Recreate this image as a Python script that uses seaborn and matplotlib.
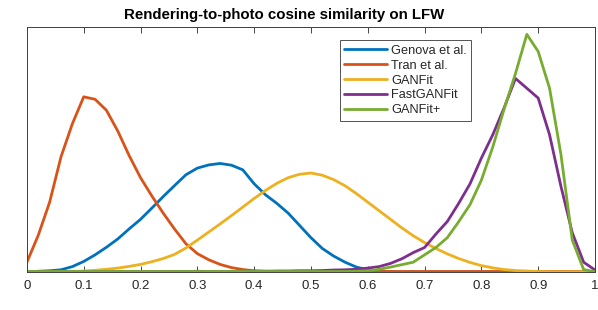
import matplotlib
matplotlib.use("Agg")
import matplotlib.pyplot as plt
import numpy as np
import pandas as pd
import seaborn as sns

# similarity bins (0 to 1, step 0.02)
sim = np.round(np.arange(0, 1.0001, 0.02), 2)

genova = [0.0, 0.003, 0.005, 0.009, 0.022, 0.043, 0.07, 0.101, 0.135, 0.176,
          0.215, 0.261, 0.308, 0.353, 0.397, 0.424, 0.437, 0.443, 0.436, 0.417,
          0.36, 0.315, 0.28, 0.24, 0.19, 0.14, 0.096, 0.065, 0.04, 0.02,
          0.009, 0.003, 0.001, 0.0, 0.0, 0.0, 0.0, 0.0, 0.0, 0.0,
          0.0, 0.0, 0.0, 0.0, 0.0, 0.0, 0.0, 0.0, 0.0, 0.0, 0.0]
tran = [0.04, 0.15, 0.285, 0.47, 0.605, 0.715, 0.705, 0.66, 0.575, 0.475,
        0.385, 0.31, 0.24, 0.175, 0.115, 0.075, 0.05, 0.031, 0.018, 0.01,
        0.005, 0.003, 0.002, 0.002, 0.002, 0.002, 0.002, 0.002, 0.002, 0.002,
        0.002, 0.002, 0.002, 0.002, 0.002, 0.002, 0.002, 0.002, 0.002, 0.002,
        0.002, 0.002, 0.002, 0.002, 0.002, 0.002, 0.002, 0.002, 0.002, 0.002, 0.002]
ganfit = [0.0, 0.0, 0.0, 0.001, 0.002, 0.004, 0.007, 0.011, 0.016, 0.023,
          0.031, 0.042, 0.055, 0.072, 0.098, 0.13, 0.163, 0.196, 0.23, 0.265,
          0.30, 0.333, 0.362, 0.385, 0.399, 0.404, 0.395, 0.377, 0.352, 0.32,
          0.285, 0.25, 0.215, 0.18, 0.148, 0.12, 0.096, 0.074, 0.055, 0.039,
          0.026, 0.017, 0.01, 0.006, 0.004, 0.002, 0.001, 0.001, 0.001, 0.001, 0.001]
fastganfit = [0.001, 0.001, 0.001, 0.001, 0.001, 0.001, 0.001, 0.001, 0.002, 0.002,
              0.002, 0.002, 0.002, 0.002, 0.002, 0.003, 0.002, 0.002, 0.002, 0.002,
              0.003, 0.003, 0.004, 0.004, 0.005, 0.005, 0.006, 0.008, 0.009, 0.011,
              0.016, 0.022, 0.035, 0.054, 0.079, 0.1, 0.155, 0.206, 0.28, 0.36,
              0.465, 0.56, 0.67, 0.79, 0.75, 0.71, 0.56, 0.35, 0.16, 0.04, 0.008]
ganfit_plus = [0.002, 0.002, 0.002, 0.002, 0.002, 0.002, 0.002, 0.002, 0.002, 0.002,
               0.002, 0.002, 0.002, 0.002, 0.002, 0.002, 0.002, 0.002, 0.002, 0.002,
               0.002, 0.002, 0.002, 0.002, 0.002, 0.002, 0.002, 0.002, 0.002, 0.003,
               0.005, 0.011, 0.02, 0.03, 0.04, 0.07, 0.1, 0.14, 0.205, 0.275,
               0.375, 0.51, 0.665, 0.81, 0.97, 0.9, 0.75, 0.48, 0.13, 0.01, 0.001]

methods = ["Genova et al.", "Tran et al.", "GANFit", "FastGANFit", "GANFit+"]
colors = ["#0072BD", "#D95319", "#EDB120", "#7E2F8E", "#77AC30"]
xticks = [0, 0.1, 0.2, 0.3, 0.4, 0.5, 0.6, 0.7, 0.8, 0.9, 1]
xtick_labels = ["0", "0.1", "0.2", "0.3", "0.4", "0.5", "0.6", "0.7", "0.8", "0.9", "1"]

frames = []
for name, vals in zip(methods, [genova, tran, ganfit, fastganfit, ganfit_plus]):
    frames.append(pd.DataFrame({"similarity": sim, "density": vals, "method": name}))
df = pd.concat(frames, ignore_index=True)

sns.set_style("white")
plt.rcParams["font.family"] = ["Liberation Sans", "DejaVu Sans"]

fig = plt.figure(figsize=(5.98, 3.10), dpi=100)
ax = fig.add_axes([0.045, 0.1226, 0.95, 0.7903])

sns.lineplot(data=df, x="similarity", y="density", hue="method",
             hue_order=methods, palette=colors, linewidth=2.0, ax=ax)

ax.set_xlim(0, 1)
ax.set_ylim(0, 1.0)
ax.set_xticks(xticks)
ax.set_xticklabels(xtick_labels, fontsize=9.5, color="#262626")
ax.set_yticks([])
ax.set_xlabel("")
ax.set_ylabel("")
ax.tick_params(axis="x", direction="in", length=4, width=0.6, top=True,
               bottom=True, color="#262626", pad=6)
for s in ax.spines.values():
    s.set_color("#404040")
    s.set_linewidth(0.7)
ax.set_title("Rendering-to-photo cosine similarity on LFW",
             fontsize=10.8, fontweight="bold", color="black", pad=6, x=0.452)

leg = ax.legend(loc="upper left", bbox_to_anchor=(0.551, 0.945), fontsize=9.2,
                frameon=True, fancybox=False, handlelength=3.3,
                borderpad=0.35, labelspacing=0.22, handletextpad=0.35,
                borderaxespad=0)
leg.get_frame().set_edgecolor("#262626")
leg.get_frame().set_linewidth(0.7)

fig.savefig("out.png", dpi=100)
